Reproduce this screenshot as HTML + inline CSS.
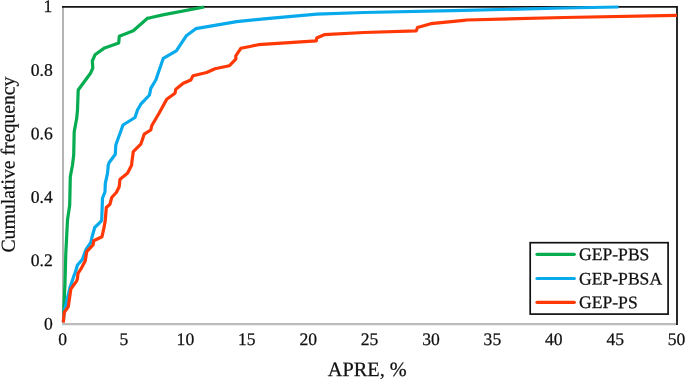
<!DOCTYPE html>
<html><head><meta charset="utf-8"><title>Cumulative frequency</title>
<style>
html,body{margin:0;padding:0;background:#fff;}
svg{display:block;font-family:"Liberation Serif","Times New Roman",serif;font-size:17.6px;fill:#111;}
svg text{stroke:#111;stroke-width:0.25px;}
</style></head><body>
<svg width="685" height="379" viewBox="0 0 685 379">
<rect width="685" height="379" fill="#fff"/>
<line x1="63.0" y1="6.8" x2="63.0" y2="325.1" stroke="#b4b4b4" stroke-width="2"/>
<line x1="62.0" y1="324.1" x2="677" y2="324.1" stroke="#bcbcbc" stroke-width="2.1"/>
<polyline points="62.0,6.8 677,6.8 677,324.90000000000003" fill="none" stroke="#141414" stroke-width="1.8"/>
<g fill="none" stroke-linejoin="round" stroke-linecap="butt" stroke-width="3.2">
<polyline stroke="#06ac50" points="63.6,314.0 65.0,283.0 65.8,253.3 67.5,220.0 69.7,205.0 70.3,176.7 72.5,165.0 73.7,155.0 74.2,131.7 76.7,118.3 77.5,110.0 78.2,90.0 90.5,73.3 92.8,68.0 92.3,61.0 95.0,54.8 104.6,47.9 118.7,43.0 119.3,36.3 133.3,30.8 147.5,18.2 150.0,17.8 164.0,14.6 204.2,7.0"/>
<polyline stroke="#08aaec" points="63.3,322.0 64.2,312.5 65.0,308.3 70.0,287.5 74.2,275.0 75.0,273.3 77.5,265.0 82.5,259.2 85.8,250.0 90.8,242.5 91.7,238.3 94.7,227.5 100.8,221.7 101.7,220.0 102.5,198.3 105.0,191.7 105.3,183.3 107.5,173.3 108.3,165.0 109.2,162.5 115.3,154.2 115.8,145.0 123.0,125.0 135.0,117.5 137.5,110.0 140.8,104.2 149.5,95.0 150.8,88.3 155.8,80.0 163.3,58.3 176.3,50.8 186.3,35.8 195.8,28.7 236.7,21.7 264.0,18.8 316.7,14.2 364.0,12.5 464.0,10.3 564.0,8.0 618.5,7.0"/>
<polyline stroke="#ff3806" points="63.3,322.5 64.2,312.5 68.3,306.7 70.8,289.2 76.7,280.8 77.5,278.3 78.0,273.3 80.8,269.2 85.3,260.8 86.7,251.7 93.0,245.0 93.7,240.8 102.0,236.7 104.2,226.7 105.3,220.0 106.3,207.5 110.0,204.2 111.7,197.5 116.3,192.5 119.2,186.7 120.0,179.2 127.5,173.3 131.7,165.0 131.7,163.3 133.3,151.7 140.8,144.2 144.2,134.2 150.8,130.0 151.7,125.8 159.2,113.0 166.7,99.2 175.0,93.3 175.8,89.2 183.3,83.3 190.8,80.0 193.0,75.8 206.7,72.5 215.0,68.7 229.2,65.8 235.8,59.2 235.8,55.8 240.8,48.3 250.0,46.5 258.3,44.7 316.3,40.8 316.7,38.0 324.2,34.7 364.0,32.5 416.3,30.8 417.5,27.5 430.8,23.7 464.0,20.3 466.7,20.0 564.0,17.5 677.0,15.3"/>
</g>
<g><text transform="translate(62.6,345.1) rotate(0.04)" text-anchor="middle">0</text><text transform="translate(124.0,345.1) rotate(0.04)" text-anchor="middle">5</text><text transform="translate(185.4,345.1) rotate(0.04)" text-anchor="middle">10</text><text transform="translate(246.8,345.1) rotate(0.04)" text-anchor="middle">15</text><text transform="translate(308.2,345.1) rotate(0.04)" text-anchor="middle">20</text><text transform="translate(369.6,345.1) rotate(0.04)" text-anchor="middle">25</text><text transform="translate(431.0,345.1) rotate(0.04)" text-anchor="middle">30</text><text transform="translate(492.4,345.1) rotate(0.04)" text-anchor="middle">35</text><text transform="translate(553.8,345.1) rotate(0.04)" text-anchor="middle">40</text><text transform="translate(615.2,345.1) rotate(0.04)" text-anchor="middle">45</text><text transform="translate(676.6,345.1) rotate(0.04)" text-anchor="middle">50</text></g>
<g><text transform="translate(52.8,329.6) rotate(0.04)" text-anchor="end">0</text><text transform="translate(52.8,266.1) rotate(0.04)" text-anchor="end">0.2</text><text transform="translate(52.8,202.7) rotate(0.04)" text-anchor="end">0.4</text><text transform="translate(52.8,139.2) rotate(0.04)" text-anchor="end">0.6</text><text transform="translate(52.8,75.8) rotate(0.04)" text-anchor="end">0.8</text><text transform="translate(52.2,12.0) rotate(0.04)" text-anchor="end">1</text></g>
<text transform="translate(367.3,376.1) rotate(0.04)" text-anchor="middle" style="font-size:20.3px">APRE, %</text>
<text transform="translate(14.6,164.6) rotate(-90.04)" text-anchor="middle" style="font-size:19.75px">Cumulative frequency</text>
<rect x="530.2" y="242.7" width="137.9" height="71.4" fill="#fff" stroke="#111" stroke-width="1.7"/>
<g stroke-width="3.2" stroke-linecap="round">
<line x1="537" y1="254.3" x2="574.3" y2="254.3" stroke="#06ac50"/>
<line x1="537" y1="278.5" x2="574.3" y2="278.5" stroke="#08aaec"/>
<line x1="537" y1="302.3" x2="574.3" y2="302.3" stroke="#ff3806"/>
</g>
<g style="font-size:17.6px">
<text transform="translate(579,260.1) rotate(0.04)">GEP-PBS</text>
<text transform="translate(579,284.4) rotate(0.04)">GEP-PBSA</text>
<text transform="translate(579,308.1) rotate(0.04)">GEP-PS</text>
</g>
</svg>
</body></html>
